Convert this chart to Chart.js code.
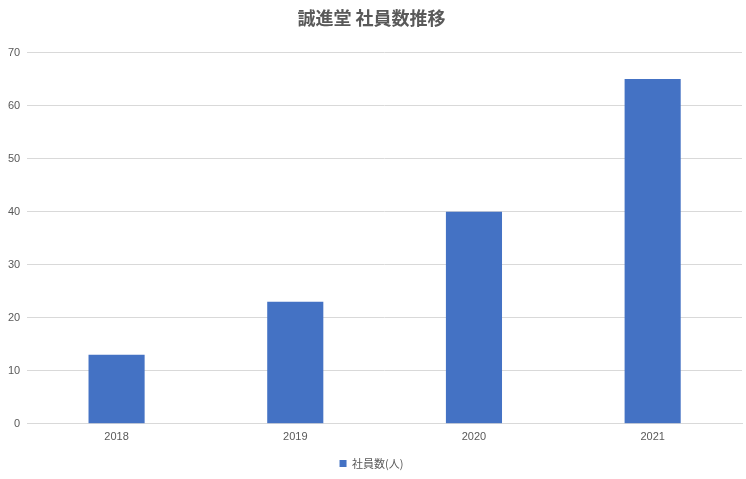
<!DOCTYPE html>
<html>
<head>
<meta charset="utf-8">
<script src="https://cdn.jsdelivr.net/npm/chart.js@4"></script>
<style>
  html, body { margin: 0; padding: 0; background: #fff; }
  #wrap { width: 746px; height: 479px; }
</style>
</head>
<body>
<div id="wrap"><canvas id="chart"></canvas></div>
<script>
// 社員数推移 data
const years = ['2018', '2019', '2020', '2021'];
const employees = [13, 23, 40, 65];
const seriesLabel = '社員数(人)';
const chartTitle = '誠進堂 社員数推移';

const textGray = '#595959';
const gridGray = '#d9d9d9';
const barBlue = '#4472c4';

new Chart(document.getElementById('chart'), {
  type: 'bar',
  data: {
    labels: years,
    datasets: [{
      label: seriesLabel,
      data: employees,
      backgroundColor: barBlue,
      borderWidth: 0,
      categoryPercentage: 1,
      barPercentage: 0.314
    }]
  },
  options: {
    responsive: true,
    maintainAspectRatio: false,
    animation: false,
    layout: { padding: { left: 1, right: 4, top: 0, bottom: 0 } },
    plugins: {
      title: {
        display: true,
        text: chartTitle,
        color: textGray,
        font: { family: '"Noto Sans CJK JP"', size: 18, weight: 'bold' },
        padding: { top: 7, bottom: 24 }
      },
      legend: {
        display: true,
        position: 'bottom',
        labels: {
          color: textGray,
          font: { family: '"Noto Sans CJK JP"', size: 11 },
          boxWidth: 7,
          boxHeight: 7,
          padding: 7
        }
      },
      tooltip: { enabled: false }
    },
    scales: {
      x: {
        grid: { display: false, drawTicks: false },
        border: { color: gridGray },
        ticks: {
          color: textGray,
          font: { family: '"Liberation Sans"', size: 11 },
          padding: 7
        }
      },
      y: {
        min: 0,
        max: 70,
        grid: { color: gridGray, drawTicks: false },
        border: { display: false },
        ticks: {
          stepSize: 10,
          color: textGray,
          font: { family: '"Liberation Sans"', size: 11 },
          padding: 7
        }
      }
    }
  }
});
</script>
</body>
</html>
